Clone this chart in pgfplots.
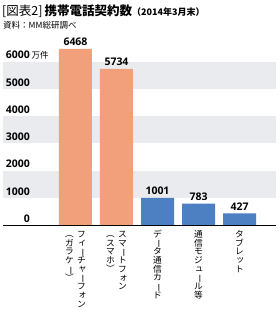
\documentclass[border=0pt]{standalone}
\usepackage{pgfplots}
\pgfplotsset{compat=1.18}
\usepackage{fontspec}
\setmainfont{Noto Sans CJK JP}
\newfontfamily\numfont{Open Sans}
\newfontfamily\jpfont{Noto Sans CJK JP}
\definecolor{salmon}{HTML}{F2A07B}
\definecolor{barblue}{HTML}{4D7FC3}
\definecolor{band}{HTML}{E9EBEF}
% vertical writing helpers
\newcommand{\ch}[1]{\makebox[8.7pt]{\raisebox{0pt}[7.3pt][1.4pt]{#1}}}
\newcommand{\cb}{\ch{\rotatebox[origin=c]{-90}{ー}}}
\newcommand{\sk}[1]{\ch{\raisebox{0.9pt}{\hspace{1.6pt}#1}}}
\newcommand{\pl}{\ch{\rotatebox[origin=c]{-90}{（}}}
\newcommand{\pr}{\ch{\rotatebox[origin=c]{-90}{）}}}
\newcommand{\vcol}[1]{{\renewcommand{\arraystretch}{0}\setlength{\tabcolsep}{0pt}\begin{tabular}[t]{c}#1\end{tabular}}}
\newcommand{\vlab}[1]{{\fontsize{8.7}{8.7}\selectfont #1}}
\begin{document}
\begin{tikzpicture}[x=1pt,y=1pt]
\useasboundingbox (0,0) rectangle (280,325);
\node[anchor=west,inner sep=0] at (2,314) {\fontsize{12.5}{14}\selectfont [図表2]\,\bfseries 携帯電話契約数\fontsize{9}{11}\selectfont（2014年3月末）};
\node[anchor=west,inner sep=0] at (3,299.5) {\fontsize{8.5}{10}\selectfont 資料：MM総研調べ};
\begin{axis}[
  at={(3pt,100pt)}, anchor=south west,
  scale only axis,
  width=273pt, height=176.9pt,
  xmin=-1.768, xmax=4.890,
  ymin=0, ymax=6500,
  clip=false,
  axis on top,
  axis x line=bottom,
  axis y line=left,
  x axis line style={black, line width=0.8pt, -},
  y axis line style={draw=none},
  major tick length=0pt,
  xtick={0,1,2,3,4},
  xticklabels={
    {\vlab{\vcol{\pl\\\ch{ガ}\\\ch{ラ}\\\ch{ケ}\\\cb\\\pr}\hspace{3.5pt}\vcol{\ch{フ}\\\sk{ィ}\\\cb\\\ch{チ}\\\sk{ャ}\\\cb\\\ch{フ}\\\sk{ォ}\\\ch{ン}}}},
    {\vlab{\vcol{\pl\\\ch{ス}\\\ch{マ}\\\ch{ホ}\\\pr}\hspace{3.5pt}\vcol{\ch{ス}\\\ch{マ}\\\cb\\\ch{ト}\\\ch{フ}\\\sk{ォ}\\\ch{ン}}}},
    {\vlab{\vcol{\ch{デ}\\\cb\\\ch{タ}\\\ch{通}\\\ch{信}\\\ch{カ}\\\cb\\\ch{ド}}}},
    {\vlab{\vcol{\ch{通}\\\ch{信}\\\ch{モ}\\\ch{ジ}\\\sk{ュ}\\\cb\\\ch{ル}\\\ch{等}}}},
    {\vlab{\vcol{\ch{タ}\\\ch{ブ}\\\ch{レ}\\\sk{ッ}\\\ch{ト}}}}},
  xticklabel style={anchor=north, inner sep=0pt, yshift=-5pt},
  ytick={0,1000,2000,3000,4000,5000,6000},
  yticklabels={0,1000,2000,3000,4000,5000,6000\rlap{\jpfont\fontsize{8.5}{10}\selectfont\mdseries\ 万件}},
  yticklabel style={font=\fontsize{10.5}{12}\bfseries\numfont, anchor=east, inner sep=0pt, xshift=27pt, yshift=6.5pt},
  /pgf/number format/assume math mode=true,
  /pgf/number format/1000 sep={},
  ybar, bar width=33pt, bar shift=0pt,
  nodes near coords,
  every node near coord/.append style={font=\fontsize{10.5}{12}\bfseries\numfont, black, inner sep=1pt, yshift=2pt},
]
\fill[band] (axis cs:-1.768,1000) rectangle (axis cs:4.890,2000);
\fill[band] (axis cs:-1.768,3000) rectangle (axis cs:4.890,4000);
\fill[band] (axis cs:-1.768,5000) rectangle (axis cs:4.890,6000);
\addplot[fill=salmon, draw=none] coordinates {(0,6468) (1,5734)};
\addplot[fill=barblue, draw=none] coordinates {(2,1001) (3,783) (4,427)};
\end{axis}
\end{tikzpicture}
\end{document}
